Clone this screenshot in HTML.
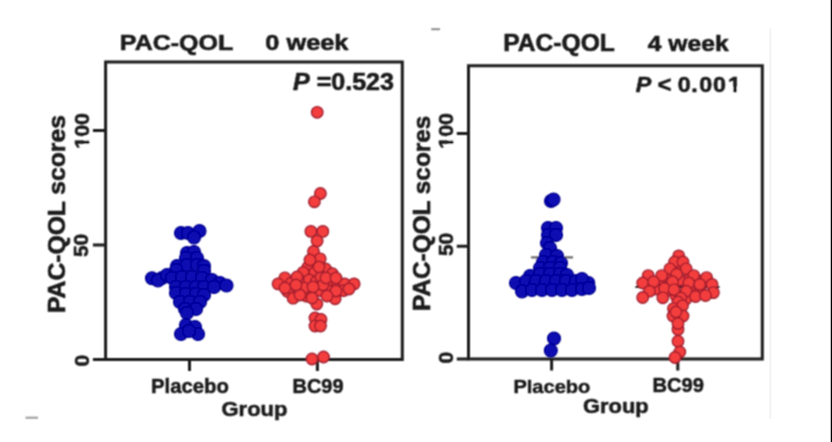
<!DOCTYPE html>
<html><head><meta charset="utf-8">
<style>
html,body{margin:0;padding:0;background:#fff;width:832px;height:442px;overflow:hidden}
svg{display:block}

text{font-family:"Liberation Sans",sans-serif;font-weight:bold}
</style></head>
<body>
<div id="w"><svg width="832" height="442" viewBox="0 0 832 442">
<defs><filter id="bl" x="-1%" y="-1%" width="102%" height="102%"><feConvolveMatrix order="3" kernelMatrix="0.0625 0.125 0.0625 0.125 0.25 0.125 0.0625 0.125 0.0625" preserveAlpha="false" edgeMode="none"/></filter></defs>
<rect x="0" y="0" width="832" height="442" fill="#fff"/>
<g filter="url(#bl)">
<g fill="none" stroke="#1c1c1c" stroke-width="3">
<path d="M105.6 62 H402.3 V359.4 H105.6 Z"/>
<path d="M92.9 359.4 H105.6 M92.9 245 H105.6 M92.9 130.6 H105.6 M189.5 359.4 V371 M317.4 359.4 V371"/>
<path d="M468.5 65.8 H762.3 V359.1 H468.5 Z"/>
<path d="M456.8 359.1 H468.5 M456.8 246.3 H468.5 M456.8 133.4 H468.5 M551.6 359.1 V370.6 M677.8 359.1 V370.6"/>
</g>
<g fill="#1a1a1a" stroke="#1a1a1a" stroke-width="2.5" stroke-linejoin="round">
<g transform="matrix(0.2501 0.0000 0.0000 0.2219 119.8494 49.5562)"><text font-size="100"><tspan font-style="normal">PAC-QOL</tspan></text></g>
<g transform="matrix(0.2534 0.0000 0.0000 0.2237 265.3399 49.5526)"><text font-size="100"><tspan font-style="normal">0 week</tspan></text></g>
<g transform="matrix(0.2508 0.0000 0.0000 0.2384 292.9493 90.4233)"><text font-size="100"><tspan font-style="italic">P</tspan><tspan font-style="normal"> =0.523</tspan></text></g>
<g transform="matrix(0.2032 0.0000 0.0000 0.2013 150.9840 393.3974)"><text font-size="100"><tspan font-style="normal">Placebo</tspan></text></g>
<g transform="matrix(0.1996 0.0000 0.0000 0.1945 292.5020 393.4110)"><text font-size="100"><tspan font-style="normal">BC99</tspan></text></g>
<g transform="matrix(0.2197 0.0000 0.0000 0.2027 221.5408 415.6945)"><text font-size="100"><tspan font-style="normal">Group</tspan></text></g>
<g transform="matrix(0.0000 -0.2146 0.2082 0.0000 89.4836 148.7873)"><text font-size="100"><tspan font-style="normal">100</tspan></text><path d="M1.00 -23.5 H22.20 V9 H1.00 Z M38.30 -23.5 H60.00 V9 H38.30 Z" fill="#fff" stroke="none"/></g>
<g transform="matrix(0.0000 -0.2085 0.2041 0.0000 88.3918 257.0170)"><text font-size="100"><tspan font-style="normal">50</tspan></text></g>
<g transform="matrix(0.0000 -0.2100 0.2096 0.0000 89.0808 366.5300)"><text font-size="100"><tspan font-style="normal">0</tspan></text></g>
<g transform="matrix(0.0000 -0.2469 0.2315 0.0000 64.5370 313.0343)"><text font-size="100"><tspan font-style="normal">PAC-QOL scores</tspan></text></g>
<g transform="matrix(0.2461 0.0000 0.0000 0.2329 503.2696 51.0342)"><text font-size="100"><tspan font-style="normal">PAC-QOL</tspan></text></g>
<g transform="matrix(0.2465 0.0000 0.0000 0.2263 647.8000 51.0474)"><text font-size="100"><tspan font-style="normal">4 week</tspan></text></g>
<g transform="matrix(0.2329 0.0000 0.0000 0.2274 635.6671 92.4452)"><text font-size="100"><tspan font-style="italic">P</tspan><tspan font-style="normal"> &lt; 0</tspan><tspan dx="3">.</tspan><tspan dx="6">0</tspan><tspan dx="4">0</tspan><tspan dx="8">1</tspan></text><path d="M397.34 -23.5 H418.54 V9 H397.34 Z M434.64 -23.5 H456.34 V9 H434.64 Z" fill="#fff" stroke="none"/></g>
<g transform="matrix(0.2008 0.0000 0.0000 0.1895 513.3960 392.6211)"><text font-size="100"><tspan font-style="normal">Placebo</tspan></text></g>
<g transform="matrix(0.2012 0.0000 0.0000 0.1932 652.4940 392.2137)"><text font-size="100"><tspan font-style="normal">BC99</tspan></text></g>
<g transform="matrix(0.2190 0.0000 0.0000 0.2041 583.0429 412.6918)"><text font-size="100"><tspan font-style="normal">Group</tspan></text></g>
<g transform="matrix(0.0000 -0.2146 0.2082 0.0000 453.3836 148.7873)"><text font-size="100"><tspan font-style="normal">100</tspan></text><path d="M1.00 -23.5 H22.20 V9 H1.00 Z M38.30 -23.5 H60.00 V9 H38.30 Z" fill="#fff" stroke="none"/></g>
<g transform="matrix(0.0000 -0.2094 0.1959 0.0000 453.4082 256.1189)"><text font-size="100"><tspan font-style="normal">50</tspan></text></g>
<g transform="matrix(0.0000 -0.2100 0.2096 0.0000 453.4808 363.4300)"><text font-size="100"><tspan font-style="normal">0</tspan></text></g>
<g transform="matrix(0.0000 -0.2437 0.2384 0.0000 429.5233 311.0185)"><text font-size="100"><tspan font-style="normal">PAC-QOL scores</tspan></text></g>
</g>
<path d="M25.5 417.7 H38" stroke="#9a9a9a" stroke-width="2"/>
<path d="M431.2 29.2 H440" stroke="#8a8a8a" stroke-width="2"/>
<path d="M531 257.4 H573" stroke="#6a6a6a" stroke-width="2.2"/>
<path d="M635.4 287 H719.5" stroke="#222" stroke-width="2.2"/>
<g>
<circle cx="181" cy="233" r="6.5" fill="#0707b2" stroke="#02028a" stroke-width="1.1"/>
<circle cx="188" cy="233" r="6.5" fill="#0707b2" stroke="#02028a" stroke-width="1.1"/>
<circle cx="199.5" cy="231" r="6.5" fill="#0707b2" stroke="#02028a" stroke-width="1.1"/>
<circle cx="194" cy="237.5" r="6.5" fill="#0707b2" stroke="#02028a" stroke-width="1.1"/>
<circle cx="187" cy="253" r="6.5" fill="#0707b2" stroke="#02028a" stroke-width="1.1"/>
<circle cx="194" cy="252" r="6.5" fill="#0707b2" stroke="#02028a" stroke-width="1.1"/>
<circle cx="186" cy="258" r="6.5" fill="#0707b2" stroke="#02028a" stroke-width="1.1"/>
<circle cx="197" cy="258" r="6.5" fill="#0707b2" stroke="#02028a" stroke-width="1.1"/>
<circle cx="177" cy="266" r="6.5" fill="#0707b2" stroke="#02028a" stroke-width="1.1"/>
<circle cx="187" cy="265" r="6.5" fill="#0707b2" stroke="#02028a" stroke-width="1.1"/>
<circle cx="197" cy="265" r="6.5" fill="#0707b2" stroke="#02028a" stroke-width="1.1"/>
<circle cx="204" cy="266" r="6.5" fill="#0707b2" stroke="#02028a" stroke-width="1.1"/>
<circle cx="176" cy="270" r="6.5" fill="#0707b2" stroke="#02028a" stroke-width="1.1"/>
<circle cx="204" cy="271" r="6.5" fill="#0707b2" stroke="#02028a" stroke-width="1.1"/>
<circle cx="152" cy="278.3" r="6.5" fill="#0707b2" stroke="#02028a" stroke-width="1.1"/>
<circle cx="162" cy="278" r="6.5" fill="#0707b2" stroke="#02028a" stroke-width="1.1"/>
<circle cx="158" cy="280.5" r="6.5" fill="#0707b2" stroke="#02028a" stroke-width="1.1"/>
<circle cx="167" cy="275" r="6.5" fill="#0707b2" stroke="#02028a" stroke-width="1.1"/>
<circle cx="172" cy="278" r="6.5" fill="#0707b2" stroke="#02028a" stroke-width="1.1"/>
<circle cx="182" cy="277" r="6.5" fill="#0707b2" stroke="#02028a" stroke-width="1.1"/>
<circle cx="192" cy="277" r="6.5" fill="#0707b2" stroke="#02028a" stroke-width="1.1"/>
<circle cx="202" cy="278" r="6.5" fill="#0707b2" stroke="#02028a" stroke-width="1.1"/>
<circle cx="212" cy="280" r="6.5" fill="#0707b2" stroke="#02028a" stroke-width="1.1"/>
<circle cx="220" cy="283" r="6.5" fill="#0707b2" stroke="#02028a" stroke-width="1.1"/>
<circle cx="226.5" cy="285.5" r="6.5" fill="#0707b2" stroke="#02028a" stroke-width="1.1"/>
<circle cx="176" cy="287" r="6.5" fill="#0707b2" stroke="#02028a" stroke-width="1.1"/>
<circle cx="186" cy="287" r="6.5" fill="#0707b2" stroke="#02028a" stroke-width="1.1"/>
<circle cx="196" cy="287" r="6.5" fill="#0707b2" stroke="#02028a" stroke-width="1.1"/>
<circle cx="204" cy="287" r="6.5" fill="#0707b2" stroke="#02028a" stroke-width="1.1"/>
<circle cx="214" cy="287" r="6.5" fill="#0707b2" stroke="#02028a" stroke-width="1.1"/>
<circle cx="176" cy="293" r="6.5" fill="#0707b2" stroke="#02028a" stroke-width="1.1"/>
<circle cx="186" cy="294" r="6.5" fill="#0707b2" stroke="#02028a" stroke-width="1.1"/>
<circle cx="196" cy="294" r="6.5" fill="#0707b2" stroke="#02028a" stroke-width="1.1"/>
<circle cx="204" cy="295" r="6.5" fill="#0707b2" stroke="#02028a" stroke-width="1.1"/>
<circle cx="180" cy="302" r="6.5" fill="#0707b2" stroke="#02028a" stroke-width="1.1"/>
<circle cx="190" cy="302" r="6.5" fill="#0707b2" stroke="#02028a" stroke-width="1.1"/>
<circle cx="200" cy="302" r="6.5" fill="#0707b2" stroke="#02028a" stroke-width="1.1"/>
<circle cx="185" cy="309" r="6.5" fill="#0707b2" stroke="#02028a" stroke-width="1.1"/>
<circle cx="196" cy="309" r="6.5" fill="#0707b2" stroke="#02028a" stroke-width="1.1"/>
<circle cx="187" cy="313" r="6.5" fill="#0707b2" stroke="#02028a" stroke-width="1.1"/>
<circle cx="186" cy="325" r="6.5" fill="#0707b2" stroke="#02028a" stroke-width="1.1"/>
<circle cx="181" cy="334" r="6.5" fill="#0707b2" stroke="#02028a" stroke-width="1.1"/>
<circle cx="195" cy="327" r="6.5" fill="#0707b2" stroke="#02028a" stroke-width="1.1"/>
<circle cx="198" cy="334" r="6.5" fill="#0707b2" stroke="#02028a" stroke-width="1.1"/>
<circle cx="189" cy="331" r="6.5" fill="#0707b2" stroke="#02028a" stroke-width="1.1"/>
<circle cx="317.2" cy="112.3" r="5.7" fill="#f43c3c" stroke="#9c1b2d" stroke-width="1.4"/>
<circle cx="320.4" cy="193.5" r="5.7" fill="#f43c3c" stroke="#9c1b2d" stroke-width="1.4"/>
<circle cx="314.4" cy="201.8" r="5.7" fill="#f43c3c" stroke="#9c1b2d" stroke-width="1.4"/>
<circle cx="310.9" cy="231.4" r="5.7" fill="#f43c3c" stroke="#9c1b2d" stroke-width="1.4"/>
<circle cx="322.8" cy="231.4" r="5.7" fill="#f43c3c" stroke="#9c1b2d" stroke-width="1.4"/>
<circle cx="317.1" cy="241" r="5.7" fill="#f43c3c" stroke="#9c1b2d" stroke-width="1.4"/>
<circle cx="313.5" cy="251.5" r="5.7" fill="#f43c3c" stroke="#9c1b2d" stroke-width="1.4"/>
<circle cx="320.2" cy="258.8" r="5.7" fill="#f43c3c" stroke="#9c1b2d" stroke-width="1.4"/>
<circle cx="308" cy="267" r="5.7" fill="#f43c3c" stroke="#9c1b2d" stroke-width="1.4"/>
<circle cx="325.6" cy="269" r="5.7" fill="#f43c3c" stroke="#9c1b2d" stroke-width="1.4"/>
<circle cx="332.4" cy="273.7" r="5.7" fill="#f43c3c" stroke="#9c1b2d" stroke-width="1.4"/>
<circle cx="314.8" cy="272.4" r="5.7" fill="#f43c3c" stroke="#9c1b2d" stroke-width="1.4"/>
<circle cx="303.2" cy="272.4" r="5.7" fill="#f43c3c" stroke="#9c1b2d" stroke-width="1.4"/>
<circle cx="284.9" cy="277.8" r="5.7" fill="#f43c3c" stroke="#9c1b2d" stroke-width="1.4"/>
<circle cx="278.1" cy="283.9" r="5.7" fill="#f43c3c" stroke="#9c1b2d" stroke-width="1.4"/>
<circle cx="291" cy="283.2" r="5.7" fill="#f43c3c" stroke="#9c1b2d" stroke-width="1.4"/>
<circle cx="301.9" cy="281.9" r="5.7" fill="#f43c3c" stroke="#9c1b2d" stroke-width="1.4"/>
<circle cx="309.3" cy="279.9" r="5.7" fill="#f43c3c" stroke="#9c1b2d" stroke-width="1.4"/>
<circle cx="316.1" cy="281.9" r="5.7" fill="#f43c3c" stroke="#9c1b2d" stroke-width="1.4"/>
<circle cx="331.1" cy="283.2" r="5.7" fill="#f43c3c" stroke="#9c1b2d" stroke-width="1.4"/>
<circle cx="337.8" cy="283.9" r="5.7" fill="#f43c3c" stroke="#9c1b2d" stroke-width="1.4"/>
<circle cx="344.6" cy="283.9" r="5.7" fill="#f43c3c" stroke="#9c1b2d" stroke-width="1.4"/>
<circle cx="354.1" cy="283.9" r="5.7" fill="#f43c3c" stroke="#9c1b2d" stroke-width="1.4"/>
<circle cx="287.6" cy="291.4" r="5.7" fill="#f43c3c" stroke="#9c1b2d" stroke-width="1.4"/>
<circle cx="298.5" cy="290.7" r="5.7" fill="#f43c3c" stroke="#9c1b2d" stroke-width="1.4"/>
<circle cx="310.7" cy="290.7" r="5.7" fill="#f43c3c" stroke="#9c1b2d" stroke-width="1.4"/>
<circle cx="320.2" cy="290.7" r="5.7" fill="#f43c3c" stroke="#9c1b2d" stroke-width="1.4"/>
<circle cx="328.3" cy="290.7" r="5.7" fill="#f43c3c" stroke="#9c1b2d" stroke-width="1.4"/>
<circle cx="343.3" cy="290.7" r="5.7" fill="#f43c3c" stroke="#9c1b2d" stroke-width="1.4"/>
<circle cx="293.1" cy="298.2" r="5.7" fill="#f43c3c" stroke="#9c1b2d" stroke-width="1.4"/>
<circle cx="306.6" cy="296.1" r="5.7" fill="#f43c3c" stroke="#9c1b2d" stroke-width="1.4"/>
<circle cx="316.8" cy="304" r="5.7" fill="#f43c3c" stroke="#9c1b2d" stroke-width="1.4"/>
<circle cx="335.1" cy="298.8" r="5.7" fill="#f43c3c" stroke="#9c1b2d" stroke-width="1.4"/>
<circle cx="321" cy="277" r="5.7" fill="#f43c3c" stroke="#9c1b2d" stroke-width="1.4"/>
<circle cx="323" cy="285" r="5.7" fill="#f43c3c" stroke="#9c1b2d" stroke-width="1.4"/>
<circle cx="326" cy="278" r="5.7" fill="#f43c3c" stroke="#9c1b2d" stroke-width="1.4"/>
<circle cx="336" cy="278" r="5.7" fill="#f43c3c" stroke="#9c1b2d" stroke-width="1.4"/>
<circle cx="297" cy="277" r="5.7" fill="#f43c3c" stroke="#9c1b2d" stroke-width="1.4"/>
<circle cx="285" cy="288" r="5.7" fill="#f43c3c" stroke="#9c1b2d" stroke-width="1.4"/>
<circle cx="304" cy="288" r="5.7" fill="#f43c3c" stroke="#9c1b2d" stroke-width="1.4"/>
<circle cx="313" cy="287" r="5.7" fill="#f43c3c" stroke="#9c1b2d" stroke-width="1.4"/>
<circle cx="336" cy="291" r="5.7" fill="#f43c3c" stroke="#9c1b2d" stroke-width="1.4"/>
<circle cx="349" cy="289" r="5.7" fill="#f43c3c" stroke="#9c1b2d" stroke-width="1.4"/>
<circle cx="327" cy="296" r="5.7" fill="#f43c3c" stroke="#9c1b2d" stroke-width="1.4"/>
<circle cx="300" cy="295" r="5.7" fill="#f43c3c" stroke="#9c1b2d" stroke-width="1.4"/>
<circle cx="312" cy="298" r="5.7" fill="#f43c3c" stroke="#9c1b2d" stroke-width="1.4"/>
<circle cx="319" cy="267" r="5.7" fill="#f43c3c" stroke="#9c1b2d" stroke-width="1.4"/>
<circle cx="310" cy="260" r="5.7" fill="#f43c3c" stroke="#9c1b2d" stroke-width="1.4"/>
<circle cx="296" cy="285" r="5.7" fill="#f43c3c" stroke="#9c1b2d" stroke-width="1.4"/>
<circle cx="315" cy="318" r="5.7" fill="#f43c3c" stroke="#9c1b2d" stroke-width="1.4"/>
<circle cx="321" cy="319.5" r="5.7" fill="#f43c3c" stroke="#9c1b2d" stroke-width="1.4"/>
<circle cx="315" cy="326" r="5.7" fill="#f43c3c" stroke="#9c1b2d" stroke-width="1.4"/>
<circle cx="320.5" cy="326" r="5.7" fill="#f43c3c" stroke="#9c1b2d" stroke-width="1.4"/>
<circle cx="312" cy="359" r="5.7" fill="#f43c3c" stroke="#9c1b2d" stroke-width="1.4"/>
<circle cx="323.5" cy="357" r="5.7" fill="#f43c3c" stroke="#9c1b2d" stroke-width="1.4"/>
<circle cx="551" cy="201" r="6.5" fill="#0707b2" stroke="#02028a" stroke-width="1.1"/>
<circle cx="553.5" cy="199.5" r="6.5" fill="#0707b2" stroke="#02028a" stroke-width="1.1"/>
<circle cx="548" cy="228" r="6.5" fill="#0707b2" stroke="#02028a" stroke-width="1.1"/>
<circle cx="556" cy="228" r="6.5" fill="#0707b2" stroke="#02028a" stroke-width="1.1"/>
<circle cx="548" cy="235" r="6.5" fill="#0707b2" stroke="#02028a" stroke-width="1.1"/>
<circle cx="556" cy="235" r="6.5" fill="#0707b2" stroke="#02028a" stroke-width="1.1"/>
<circle cx="547" cy="243" r="6.5" fill="#0707b2" stroke="#02028a" stroke-width="1.1"/>
<circle cx="550" cy="248" r="6.5" fill="#0707b2" stroke="#02028a" stroke-width="1.1"/>
<circle cx="546" cy="255" r="6.5" fill="#0707b2" stroke="#02028a" stroke-width="1.1"/>
<circle cx="557" cy="256" r="6.5" fill="#0707b2" stroke="#02028a" stroke-width="1.1"/>
<circle cx="543" cy="262" r="6.5" fill="#0707b2" stroke="#02028a" stroke-width="1.1"/>
<circle cx="553" cy="262" r="6.5" fill="#0707b2" stroke="#02028a" stroke-width="1.1"/>
<circle cx="561" cy="263" r="6.5" fill="#0707b2" stroke="#02028a" stroke-width="1.1"/>
<circle cx="540" cy="268" r="6.5" fill="#0707b2" stroke="#02028a" stroke-width="1.1"/>
<circle cx="550" cy="268" r="6.5" fill="#0707b2" stroke="#02028a" stroke-width="1.1"/>
<circle cx="560" cy="268" r="6.5" fill="#0707b2" stroke="#02028a" stroke-width="1.1"/>
<circle cx="530" cy="276" r="6.5" fill="#0707b2" stroke="#02028a" stroke-width="1.1"/>
<circle cx="540" cy="274" r="6.5" fill="#0707b2" stroke="#02028a" stroke-width="1.1"/>
<circle cx="550" cy="274" r="6.5" fill="#0707b2" stroke="#02028a" stroke-width="1.1"/>
<circle cx="560" cy="274" r="6.5" fill="#0707b2" stroke="#02028a" stroke-width="1.1"/>
<circle cx="567" cy="275" r="6.5" fill="#0707b2" stroke="#02028a" stroke-width="1.1"/>
<circle cx="516" cy="283" r="6.5" fill="#0707b2" stroke="#02028a" stroke-width="1.1"/>
<circle cx="526" cy="281" r="6.5" fill="#0707b2" stroke="#02028a" stroke-width="1.1"/>
<circle cx="536" cy="281" r="6.5" fill="#0707b2" stroke="#02028a" stroke-width="1.1"/>
<circle cx="546" cy="281" r="6.5" fill="#0707b2" stroke="#02028a" stroke-width="1.1"/>
<circle cx="556" cy="281" r="6.5" fill="#0707b2" stroke="#02028a" stroke-width="1.1"/>
<circle cx="566" cy="281" r="6.5" fill="#0707b2" stroke="#02028a" stroke-width="1.1"/>
<circle cx="576" cy="281" r="6.5" fill="#0707b2" stroke="#02028a" stroke-width="1.1"/>
<circle cx="588.3" cy="283" r="6.5" fill="#0707b2" stroke="#02028a" stroke-width="1.1"/>
<circle cx="582" cy="279" r="6.5" fill="#0707b2" stroke="#02028a" stroke-width="1.1"/>
<circle cx="522" cy="291.5" r="6.5" fill="#0707b2" stroke="#02028a" stroke-width="1.1"/>
<circle cx="532" cy="290" r="6.5" fill="#0707b2" stroke="#02028a" stroke-width="1.1"/>
<circle cx="542" cy="290" r="6.5" fill="#0707b2" stroke="#02028a" stroke-width="1.1"/>
<circle cx="552" cy="290" r="6.5" fill="#0707b2" stroke="#02028a" stroke-width="1.1"/>
<circle cx="562" cy="290" r="6.5" fill="#0707b2" stroke="#02028a" stroke-width="1.1"/>
<circle cx="572" cy="290" r="6.5" fill="#0707b2" stroke="#02028a" stroke-width="1.1"/>
<circle cx="582" cy="289" r="6.5" fill="#0707b2" stroke="#02028a" stroke-width="1.1"/>
<circle cx="589" cy="288" r="6.5" fill="#0707b2" stroke="#02028a" stroke-width="1.1"/>
<circle cx="554" cy="338.6" r="6.5" fill="#0707b2" stroke="#02028a" stroke-width="1.1"/>
<circle cx="550.8" cy="350.5" r="6.5" fill="#0707b2" stroke="#02028a" stroke-width="1.1"/>
<circle cx="678" cy="264" r="5.7" fill="#f43c3c" stroke="#9c1b2d" stroke-width="1.4"/>
<circle cx="670" cy="280" r="5.7" fill="#f43c3c" stroke="#9c1b2d" stroke-width="1.4"/>
<circle cx="680" cy="280" r="5.7" fill="#f43c3c" stroke="#9c1b2d" stroke-width="1.4"/>
<circle cx="690" cy="278" r="5.7" fill="#f43c3c" stroke="#9c1b2d" stroke-width="1.4"/>
<circle cx="660" cy="283" r="5.7" fill="#f43c3c" stroke="#9c1b2d" stroke-width="1.4"/>
<circle cx="700" cy="281" r="5.7" fill="#f43c3c" stroke="#9c1b2d" stroke-width="1.4"/>
<circle cx="665" cy="292" r="5.7" fill="#f43c3c" stroke="#9c1b2d" stroke-width="1.4"/>
<circle cx="690" cy="289" r="5.7" fill="#f43c3c" stroke="#9c1b2d" stroke-width="1.4"/>
<circle cx="656" cy="289" r="5.7" fill="#f43c3c" stroke="#9c1b2d" stroke-width="1.4"/>
<circle cx="700" cy="290" r="5.7" fill="#f43c3c" stroke="#9c1b2d" stroke-width="1.4"/>
<circle cx="676" cy="296" r="5.7" fill="#f43c3c" stroke="#9c1b2d" stroke-width="1.4"/>
<circle cx="686" cy="299" r="5.7" fill="#f43c3c" stroke="#9c1b2d" stroke-width="1.4"/>
<circle cx="678.7" cy="255.9" r="5.7" fill="#f43c3c" stroke="#9c1b2d" stroke-width="1.4"/>
<circle cx="674.6" cy="262" r="5.7" fill="#f43c3c" stroke="#9c1b2d" stroke-width="1.4"/>
<circle cx="683" cy="262" r="5.7" fill="#f43c3c" stroke="#9c1b2d" stroke-width="1.4"/>
<circle cx="669.9" cy="268.8" r="5.7" fill="#f43c3c" stroke="#9c1b2d" stroke-width="1.4"/>
<circle cx="686.2" cy="268.8" r="5.7" fill="#f43c3c" stroke="#9c1b2d" stroke-width="1.4"/>
<circle cx="648.2" cy="275.6" r="5.7" fill="#f43c3c" stroke="#9c1b2d" stroke-width="1.4"/>
<circle cx="661.7" cy="275.6" r="5.7" fill="#f43c3c" stroke="#9c1b2d" stroke-width="1.4"/>
<circle cx="676.7" cy="274.2" r="5.7" fill="#f43c3c" stroke="#9c1b2d" stroke-width="1.4"/>
<circle cx="693.7" cy="275.6" r="5.7" fill="#f43c3c" stroke="#9c1b2d" stroke-width="1.4"/>
<circle cx="706.6" cy="277.6" r="5.7" fill="#f43c3c" stroke="#9c1b2d" stroke-width="1.4"/>
<circle cx="642.7" cy="283" r="5.7" fill="#f43c3c" stroke="#9c1b2d" stroke-width="1.4"/>
<circle cx="653.6" cy="281.7" r="5.7" fill="#f43c3c" stroke="#9c1b2d" stroke-width="1.4"/>
<circle cx="672.6" cy="281.7" r="5.7" fill="#f43c3c" stroke="#9c1b2d" stroke-width="1.4"/>
<circle cx="688.9" cy="283" r="5.7" fill="#f43c3c" stroke="#9c1b2d" stroke-width="1.4"/>
<circle cx="699.8" cy="284.4" r="5.7" fill="#f43c3c" stroke="#9c1b2d" stroke-width="1.4"/>
<circle cx="712" cy="284.4" r="5.7" fill="#f43c3c" stroke="#9c1b2d" stroke-width="1.4"/>
<circle cx="649.5" cy="291.2" r="5.7" fill="#f43c3c" stroke="#9c1b2d" stroke-width="1.4"/>
<circle cx="664.5" cy="288.5" r="5.7" fill="#f43c3c" stroke="#9c1b2d" stroke-width="1.4"/>
<circle cx="674" cy="289.8" r="5.7" fill="#f43c3c" stroke="#9c1b2d" stroke-width="1.4"/>
<circle cx="686.2" cy="291.2" r="5.7" fill="#f43c3c" stroke="#9c1b2d" stroke-width="1.4"/>
<circle cx="713.4" cy="292.6" r="5.7" fill="#f43c3c" stroke="#9c1b2d" stroke-width="1.4"/>
<circle cx="642.7" cy="297.5" r="5.7" fill="#f43c3c" stroke="#9c1b2d" stroke-width="1.4"/>
<circle cx="662.8" cy="297.8" r="5.7" fill="#f43c3c" stroke="#9c1b2d" stroke-width="1.4"/>
<circle cx="680.8" cy="298" r="5.7" fill="#f43c3c" stroke="#9c1b2d" stroke-width="1.4"/>
<circle cx="695.5" cy="296.5" r="5.7" fill="#f43c3c" stroke="#9c1b2d" stroke-width="1.4"/>
<circle cx="705.5" cy="295.5" r="5.7" fill="#f43c3c" stroke="#9c1b2d" stroke-width="1.4"/>
<circle cx="678" cy="302" r="5.7" fill="#f43c3c" stroke="#9c1b2d" stroke-width="1.4"/>
<circle cx="673.5" cy="308.6" r="5.7" fill="#f43c3c" stroke="#9c1b2d" stroke-width="1.4"/>
<circle cx="682.5" cy="305.8" r="5.7" fill="#f43c3c" stroke="#9c1b2d" stroke-width="1.4"/>
<circle cx="678" cy="317.6" r="5.7" fill="#f43c3c" stroke="#9c1b2d" stroke-width="1.4"/>
<circle cx="683" cy="316" r="5.7" fill="#f43c3c" stroke="#9c1b2d" stroke-width="1.4"/>
<circle cx="673" cy="316" r="5.7" fill="#f43c3c" stroke="#9c1b2d" stroke-width="1.4"/>
<circle cx="676" cy="312" r="5.7" fill="#f43c3c" stroke="#9c1b2d" stroke-width="1.4"/>
<circle cx="678" cy="329.4" r="5.7" fill="#f43c3c" stroke="#9c1b2d" stroke-width="1.4"/>
<circle cx="678" cy="323.5" r="5.7" fill="#f43c3c" stroke="#9c1b2d" stroke-width="1.4"/>
<circle cx="678" cy="341.2" r="5.7" fill="#f43c3c" stroke="#9c1b2d" stroke-width="1.4"/>
<circle cx="679.8" cy="352" r="5.7" fill="#f43c3c" stroke="#9c1b2d" stroke-width="1.4"/>
<circle cx="675" cy="357.5" r="5.7" fill="#f43c3c" stroke="#9c1b2d" stroke-width="1.4"/>
</g>
</g>
<rect x="769.3" y="28.5" width="2" height="390.5" fill="#f3f3f3"/>
<rect x="830.75" y="0" width="1.25" height="442" fill="#000"/>
</svg></div>
</body></html>
